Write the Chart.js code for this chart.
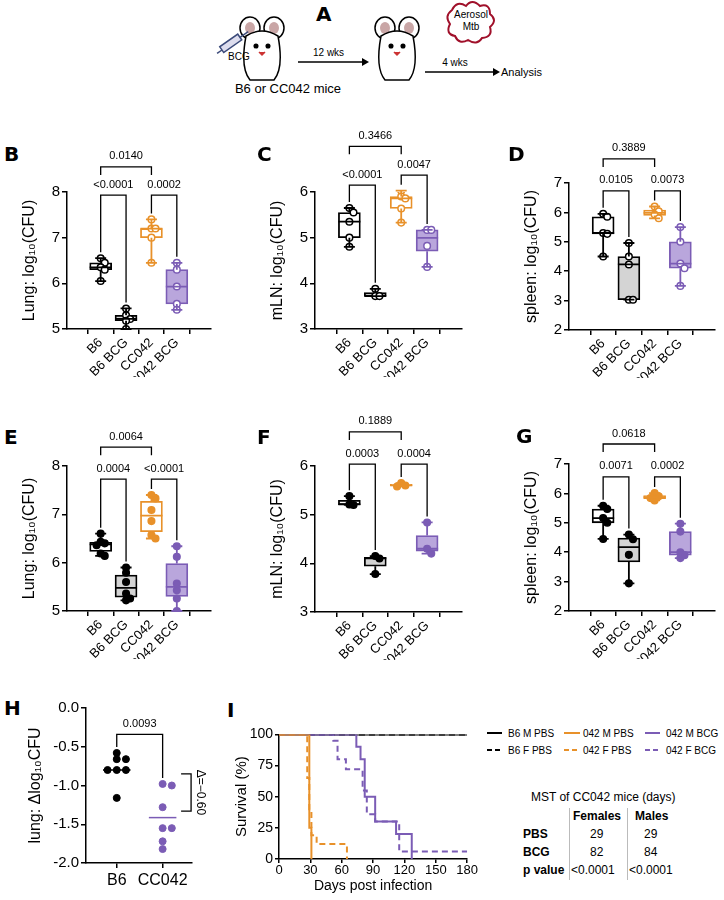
<!DOCTYPE html>
<html><head><meta charset="utf-8">
<script src="https://cdn.jsdelivr.net/npm/chart.js@4/dist/chart.umd.min.js"></script>
<style>
body{margin:0;width:724px;height:900px;background:#fff;font-family:"Liberation Sans",Arial,sans-serif;position:relative;overflow:hidden}
canvas{position:absolute}
.lab{position:absolute;font-weight:bold;font-size:20px;font-family:"DejaVu Sans",sans-serif}
.t{position:absolute;font-size:12px;white-space:nowrap}
</style></head><body>
<script>
// ---------- DATA ----------
const categories = ['B6','B6 BCG','CC042','CC042 BCG'];
const lungB   = [[6.55,6.45,6.35,6.3,6.05],[5.45,5.3,5.22,5.18,5.0],[7.4,7.2,7.2,7.0,6.45],[6.45,6.3,5.93,5.55,5.42]];
const mlnC    = [[5.65,5.55,5.35,5.0,4.8],[3.88,3.72,3.72],[6.03,5.9,5.86,5.64,5.33],[5.17,5.17,4.82,4.36]];
const spleenD = [[5.95,5.85,5.3,5.27,4.5],[4.96,4.5,4.23,3.03,3.03],[6.2,6.04,5.93,5.8],[5.5,5.0,4.26,4.1,3.5]];
const lungE   = [[6.6,6.43,6.4,6.36,6.19,6.14],[5.9,5.79,5.6,5.36,5.26,5.22],[7.4,7.33,7.09,6.86,6.57,6.5],[6.34,6.12,5.57,5.43,5.26,5.0]];
const mlnF    = [[5.38,5.21,5.2],[4.15,4.1,3.78],[5.65,5.6,5.58],[4.84,4.3,4.2]];
const spleenG = [[5.58,5.47,5.16,5.0,4.45],[4.6,4.44,3.91,2.94],[6.01,5.9,5.84,5.76],[4.97,4.7,4.0,3.9,3.8]];
const pB = ['<0.0001','0.0002','0.0140'];
const pC = ['<0.0001','0.0047','0.3466'];
const pD = ['0.0105','0.0073','0.3889'];
const pE = ['0.0004','<0.0001','0.0064'];
const pF = ['0.0003','0.0004','0.1889'];
const pG = ['0.0071','0.0002','0.0618'];
const deltaCats = ['B6','CC042'];
const deltaB6 = [-0.58,-0.66,-0.66,-0.8,-0.8,-0.8,-1.16];
const deltaCC042 = [-0.98,-1.0,-1.28,-1.55,-1.55,-1.72,-1.82];
const deltaP = '0.0093';
const deltaDiff = '\u0394=\u22120.60';
const survB6M = [[0,100],[180,100]];
const survB6F = [[0,100],[180,100]];
const surv042MPBS = [[0,100],[29,25],[31,0]];
const surv042FPBS = [[0,100],[27,65],[29,40],[31,19],[36,12],[65,0]];
const surv042MBCG = [[0,100],[74,90],[78,80],[82,50],[92,30],[112,20],[127,0]];
const surv042FBCG = [[0,100],[52,95],[56,80],[64,72],[80,55],[84,36],[92,30],[115,6],[180,6]];
// ---------- STYLE ----------
const BLACK='#000', ORANGE='#E8912A', PURPLE='#7B5CB5';
const boxFill=['#ffffff','#d4d4d4','#ffffff','#b9a6dc'];
const boxLine=[BLACK,BLACK,ORANGE,PURPLE];
const FONT='"Liberation Sans", Arial, sans-serif';
Chart.defaults.font.family=FONT;
Chart.defaults.color='#000';
Chart.defaults.animation=false;
const EXTRA={};

function quant(a,q){const s=[...a].sort((x,y)=>x-y);const p=(s.length-1)*q;const l=Math.floor(p),h=Math.ceil(p);return s[l]+(s[h]-s[l])*(p-l);}
function swarm(vals,thr,step){const out=[];const placed=[];[...vals].sort((a,b)=>b-a).forEach(v=>{const offs=[0,step,-step,2*step,-2*step];for(const o of offs){if(!placed.some(p=>Math.abs(p.o-o)<step*0.9&&Math.abs(p.v-v)<thr)){placed.push({o,v});out.push({o,v});break;}}});return out;}

const bracketPlugin={id:'brk',afterDraw(ch){const o=ch.options.plugins.brk;if(!o||!ch.scales.x||!ch.scales.y)return;const c=ch.ctx,xs=ch.scales.x,ys=ch.scales.y;c.save();c.strokeStyle='#000';c.lineWidth=1.3;c.fillStyle='#000';c.font='11px '+FONT;c.textAlign='center';c.textBaseline='bottom';
 (o.list||[]).forEach(b=>{const x1=xs.getPixelForValue(b.i),x2=xs.getPixelForValue(b.j),y=ys.getPixelForValue(b.y);
  const l1=b.short?y+8:ys.getPixelForValue(b.m1)-6,l2=b.short?y+8:ys.getPixelForValue(b.m2)-6;
  c.beginPath();c.moveTo(x1,l1);c.lineTo(x1,y);c.lineTo(x2,y);c.lineTo(x2,l2);c.stroke();c.fillText(b.t,(x1+x2)/2,y-5);});
 (o.boxes||[]).forEach(bx=>{const x=xs.getPixelForValue(bx.i);const hw=bx.w/2;c.strokeStyle=bx.col;c.lineWidth=1.8;
  const py=v=>ys.getPixelForValue(v);c.beginPath();c.moveTo(x,py(bx.min));c.lineTo(x,py(bx.q1));c.moveTo(x,py(bx.q3));c.lineTo(x,py(bx.max));
  c.moveTo(x-hw*0.5,py(bx.min));c.lineTo(x+hw*0.5,py(bx.min));c.moveTo(x-hw*0.5,py(bx.max));c.lineTo(x+hw*0.5,py(bx.max));
  c.moveTo(x-hw,py(bx.med));c.lineTo(x+hw,py(bx.med));c.stroke();});
 const ex=EXTRA[ch.canvas.id];if(ex)ex(ch,c);
 c.restore();}};
Chart.register(bracketPlugin);

function place(id,axisLeft,top,bottom,right,yw,xh,padTop){const cv=document.createElement('canvas');cv.id=id;const left=axisLeft-yw;const t=top-padTop;cv.style.left=left+'px';cv.style.top=t+'px';cv.width=right-left+4;cv.height=bottom-t+xh;cv.style.width=cv.width+'px';cv.style.height=cv.height+'px';document.body.appendChild(cv);return cv;}

function boxPanel(id,geo,groups,yMin,yMax,yTitle,pv,br,filled){
 const cv=place(id,geo[0],geo[1],geo[2],geo[3],47,48,geo[1]-geo[4]+14);
 const stats=groups.map((g,i)=>({i,min:Math.min(...g),max:Math.max(...g),q1:quant(g,0.25),med:quant(g,0.5),q3:quant(g,0.75),col:boxLine[i],w:22}));
 const thr=(yMax-yMin)*0.035;
 const ds=[{type:'bar',data:stats.map(s=>({x:s.i,y:[s.q1,s.q3]})),backgroundColor:boxFill,borderColor:boxLine,borderWidth:1.8,barThickness:22,borderSkipped:false,order:2}];
 groups.forEach((g,i)=>{ds.push({type:'scatter',data:swarm(g,thr,0.16).map(p=>({x:i+p.o,y:p.v})),pointRadius:3.3,pointBorderWidth:1.5,pointBorderColor:boxLine[i],pointBackgroundColor:filled?boxLine[i]:'#fff',order:1});});
 new Chart(cv,{data:{datasets:ds},options:{responsive:false,layout:{padding:{top:geo[1]-geo[4]+14,right:4}},
  plugins:{legend:{display:false},tooltip:{enabled:false},brk:{boxes:stats,list:[
   {i:0,j:1,y:br[0],m1:stats[0].max,m2:stats[1].max,t:pv[0]},{i:2,j:3,y:br[1],m1:stats[2].max,m2:stats[3].max,t:pv[1]},{i:0,j:2,y:br[2],short:true,t:pv[2]}]}},
  scales:{x:{type:'linear',min:-0.62,max:3.62,afterFit:s=>{s.height=48},grid:{drawOnChartArea:false,color:'#000',lineWidth:1.5,tickLength:5},border:{color:'#000',width:1.5},
    ticks:{stepSize:1,includeBounds:false,autoSkip:false,minRotation:45,maxRotation:45,font:{size:13},padding:1,callback:v=>Number.isInteger(v)?categories[v]:''}},
   y:{type:'linear',min:yMin,max:yMax,afterFit:s=>{s.width=47},grid:{drawOnChartArea:false,color:'#000',lineWidth:1.5,tickLength:5},border:{color:'#000',width:1.5},
    ticks:{stepSize:1,font:{size:15},padding:2},title:{display:true,text:yTitle,font:{size:16},padding:0}}}}});
}
boxPanel('cB',[67,192,329,212,150],lungB,5,8,'Lung: log\u2081\u2080(CFU)',pB,[7.93,7.93,8.55],false);
boxPanel('cC',[315,192,329,463,130],mlnC,3,6,'mLN: log\u2081\u2080(CFU)',pC,[6.15,6.37,7.0],false);
boxPanel('cD',[569,183,330,716,145],spleenD,2,7,'spleen: log\u2081\u2080(CFU)',pD,[6.73,6.73,7.82],false);
boxPanel('cE',[67,466,611,212,425],lungE,5,8,'Lung: log\u2081\u2080(CFU)',pE,[7.73,7.73,8.39],true);
boxPanel('cF',[315,466,612,463,415],mlnF,3,6,'mLN: log\u2081\u2080(CFU)',pF,[6.04,6.04,6.7],true);
boxPanel('cG',[569,464,611,716,430],spleenG,2,7,'spleen: log\u2081\u2080(CFU)',pG,[6.56,6.56,7.68],true);

// Panel H
(function(){const cv=place('cH',86,708,863,222,60,34,12);
 const sb=swarm(deltaB6,0.05,0.2),sc=swarm(deltaCC042,0.05,0.2);
 const mean=a=>a.reduce((s,v)=>s+v,0)/a.length;
 EXTRA.cH=(ch,c)=>{const xs=ch.scales.x,ys=ch.scales.y;const x=xs.getPixelForValue(1.62);const y1=ys.getPixelForValue(-0.85),y2=ys.getPixelForValue(-1.33);
   c.strokeStyle='#000';c.lineWidth=1.3;c.beginPath();c.moveTo(x-10,y1);c.lineTo(x,y1);c.lineTo(x,y2);c.lineTo(x-10,y2);c.stroke();
   c.save();c.translate(x+9,(y1+y2)/2);c.rotate(Math.PI/2);c.font='12px '+FONT;c.textAlign='center';c.textBaseline='middle';c.fillText(deltaDiff,0,0);c.restore();};
 new Chart(cv,{type:'scatter',data:{datasets:[
  {type:'scatter',data:sb.map(p=>({x:0+p.o,y:p.v})),pointRadius:3.5,pointBackgroundColor:BLACK,pointBorderColor:BLACK},
  {type:'scatter',data:sc.map(p=>({x:1+p.o,y:p.v})),pointRadius:3.5,pointBackgroundColor:PURPLE,pointBorderColor:PURPLE},
  {type:'line',data:[{x:-0.3,y:quant(deltaB6,0.5)},{x:0.3,y:quant(deltaB6,0.5)}],borderColor:BLACK,borderWidth:1.5,pointRadius:0},
  {type:'line',data:[{x:0.7,y:mean(deltaCC042)},{x:1.3,y:mean(deltaCC042)}],borderColor:PURPLE,borderWidth:1.5,pointRadius:0}]},
 options:{responsive:false,layout:{padding:{top:12,right:34}},plugins:{legend:{display:false},tooltip:{enabled:false},
  brk:{list:[{i:0,j:1,y:-0.34,m1:Math.max(...deltaB6),m2:Math.max(...deltaCC042),t:deltaP}]}},
  scales:{x:{type:'linear',min:-0.67,max:1.64,afterFit:s=>{s.height=34},grid:{drawOnChartArea:false,color:'#000',lineWidth:1.5,tickLength:5},border:{color:'#000',width:1.5},
    ticks:{stepSize:1,includeBounds:false,maxRotation:0,font:{size:16},callback:v=>Number.isInteger(v)?deltaCats[v]:''}},
   y:{type:'linear',min:-2,max:0,afterFit:s=>{s.width=60},grid:{drawOnChartArea:false,color:'#000',lineWidth:1.5,tickLength:5},border:{color:'#000',width:1.5},
    ticks:{stepSize:0.5,font:{size:15},padding:2,callback:v=>v.toFixed(1)},title:{display:true,text:'lung: \u0394log\u2081\u2080CFU',font:{size:16},padding:0}}}}});
})();

// Panel I
(function(){const cv=place('cI',279,732,859,474,46,36,8);
 const mk=(d,col,dash)=>({data:d.map(p=>({x:p[0],y:p[1]})),stepped:'before',borderColor:col,borderWidth:2,borderDash:dash,pointRadius:0,fill:false});
 new Chart(cv,{type:'line',data:{datasets:[mk(surv042FPBS,ORANGE,[6,4]),mk(surv042MPBS,ORANGE,[]),mk(surv042FBCG,PURPLE,[6,4]),mk(surv042MBCG,PURPLE,[]),mk(survB6F,BLACK,[6,4]),mk(survB6M,BLACK,[])]},
 options:{responsive:false,layout:{padding:{top:8,right:6}},plugins:{legend:{display:false},tooltip:{enabled:false}},
  scales:{x:{type:'linear',min:0,max:180,afterFit:s=>{s.height=36},grid:{drawOnChartArea:false,color:'#000',lineWidth:1.5,tickLength:4},border:{color:'#000',width:1.5},
    ticks:{stepSize:30,maxRotation:0,font:{size:13},padding:0},title:{display:true,text:'Days post infection',font:{size:14},padding:0}},
   y:{type:'linear',min:0,max:100,afterFit:s=>{s.width=46},grid:{drawOnChartArea:false,color:'#000',lineWidth:1.5,tickLength:4},border:{color:'#000',width:1.5},
    ticks:{stepSize:25,font:{size:14},padding:2},title:{display:true,text:'Survival (%)',font:{size:15},padding:0}}}}});
})();
</script>

<div class="lab" style="left:4px;top:142px">B</div>
<div class="lab" style="left:257px;top:142px">C</div>
<div class="lab" style="left:508px;top:142px">D</div>
<div class="lab" style="left:4px;top:425px">E</div>
<div class="lab" style="left:257px;top:425px">F</div>
<div class="lab" style="left:516px;top:424px">G</div>
<div class="lab" style="left:4px;top:696px">H</div>
<div class="lab" style="left:227px;top:698px">I</div>
<div class="lab" style="left:316px;top:2px">A</div>

<svg style="position:absolute;left:210px;top:0" width="360" height="100" font-family="Liberation Sans, Arial, sans-serif">
 <g transform="translate(52,28)" stroke="#000" stroke-width="1.5" fill="#fff">
  <ellipse cx="-12" cy="0" rx="10" ry="11"/><ellipse cx="12" cy="0" rx="10" ry="11"/>
  <ellipse cx="-12" cy="0" rx="5" ry="6" fill="#c9a6a6" stroke="none"/><ellipse cx="12" cy="0" rx="5" ry="6" fill="#c9a6a6" stroke="none"/>
  <path d="M-16,8 Q-22,40 -12,52 L12,52 Q22,40 16,8 Q0,-2 -16,8Z"/>
  <circle cx="-6" cy="18" r="1.8" fill="#000"/><circle cx="6" cy="18" r="1.8" fill="#000"/>
  <path d="M-3,24 L0,27 L3,24" fill="#c33" stroke="#c33"/>
 </g>
 <g transform="translate(12,50) rotate(-35)" stroke="#3b4a7a" stroke-width="1.5" fill="#dde"><rect x="0" y="-4" width="22" height="7"/><line x1="22" y1="0" x2="32" y2="0"/><line x1="-6" y1="0" x2="0" y2="0"/></g>
 <text x="18" y="60" font-size="10">BCG</text>
 <line x1="88" y1="62" x2="152" y2="62" stroke="#000" stroke-width="1.5"/><path d="M152,58 L159,62 L152,66Z"/>
 <text x="103" y="56" font-size="10">12 wks</text>
 <g transform="translate(187,28)" stroke="#000" stroke-width="1.5" fill="#fff">
  <ellipse cx="-12" cy="0" rx="10" ry="11"/><ellipse cx="12" cy="0" rx="10" ry="11"/>
  <ellipse cx="-12" cy="0" rx="5" ry="6" fill="#c9a6a6" stroke="none"/><ellipse cx="12" cy="0" rx="5" ry="6" fill="#c9a6a6" stroke="none"/>
  <path d="M-16,8 Q-22,40 -12,52 L12,52 Q22,40 16,8 Q0,-2 -16,8Z"/>
  <circle cx="-6" cy="18" r="1.8" fill="#000"/><circle cx="6" cy="18" r="1.8" fill="#000"/>
  <path d="M-3,24 L0,27 L3,24" fill="#c33" stroke="#c33"/>
 </g>
 <path d="M242,10 q5,-10 14,-4 q6,-8 14,0 q10,-3 10,8 q8,6 0,13 q3,10 -8,11 q-5,8 -14,2 q-9,5 -13,-4 q-10,-2 -5,-12 q-6,-8 2,-14Z" fill="#fff" stroke="#a0102a" stroke-width="2"/>
 <text x="261" y="18" font-size="10" text-anchor="middle">Aerosol</text><text x="261" y="30" font-size="10" text-anchor="middle">Mtb</text>
 <line x1="215" y1="72" x2="283" y2="72" stroke="#000" stroke-width="1.5"/><path d="M283,68 L290,72 L283,76Z"/>
 <text x="245" y="66" font-size="10" text-anchor="middle">4 wks</text>
 <text x="291" y="76" font-size="11">Analysis</text>
 <text x="78" y="93" font-size="13" text-anchor="middle">B6 or CC042 mice</text>
</svg>

<svg style="position:absolute;left:480px;top:722px" width="244" height="40" font-family="Liberation Sans, Arial, sans-serif" font-size="10">
 <line x1="7" y1="11" x2="22" y2="11" stroke="#000" stroke-width="2"/><text x="28" y="15">B6 M PBS</text>
 <line x1="7" y1="28" x2="22" y2="28" stroke="#000" stroke-width="2" stroke-dasharray="5,3"/><text x="28" y="32">B6 F PBS</text>
 <line x1="84" y1="11" x2="100" y2="11" stroke="#E8912A" stroke-width="2"/><text x="103" y="15">042 M PBS</text>
 <line x1="84" y1="28" x2="100" y2="28" stroke="#E8912A" stroke-width="2" stroke-dasharray="5,3"/><text x="103" y="32">042 F PBS</text>
 <line x1="165" y1="11" x2="180" y2="11" stroke="#7B5CB5" stroke-width="2"/><text x="186" y="15">042 M BCG</text>
 <line x1="165" y1="28" x2="180" y2="28" stroke="#7B5CB5" stroke-width="2" stroke-dasharray="5,3"/><text x="186" y="32">042 F BCG</text>
</svg>
<div class="t" style="left:531px;top:790px;font-size:12px">MST of CC042 mice (days)</div>
<div style="position:absolute;left:569px;top:808px;width:1px;height:72px;background:#bbb"></div>
<div style="position:absolute;left:627px;top:808px;width:1px;height:72px;background:#bbb"></div>
<div class="t" style="left:573px;top:809px;font-weight:bold">Females</div>
<div class="t" style="left:635px;top:809px;font-weight:bold">Males</div>
<div class="t" style="left:523px;top:827px;font-weight:bold">PBS</div>
<div class="t" style="left:590px;top:827px">29</div><div class="t" style="left:644px;top:827px">29</div>
<div class="t" style="left:523px;top:845px;font-weight:bold">BCG</div>
<div class="t" style="left:590px;top:845px">82</div><div class="t" style="left:644px;top:845px">84</div>
<div class="t" style="left:523px;top:863px;font-weight:bold">p value</div>
<div class="t" style="left:571px;top:863px">&lt;0.0001</div><div class="t" style="left:629px;top:863px">&lt;0.0001</div>
</body></html>
